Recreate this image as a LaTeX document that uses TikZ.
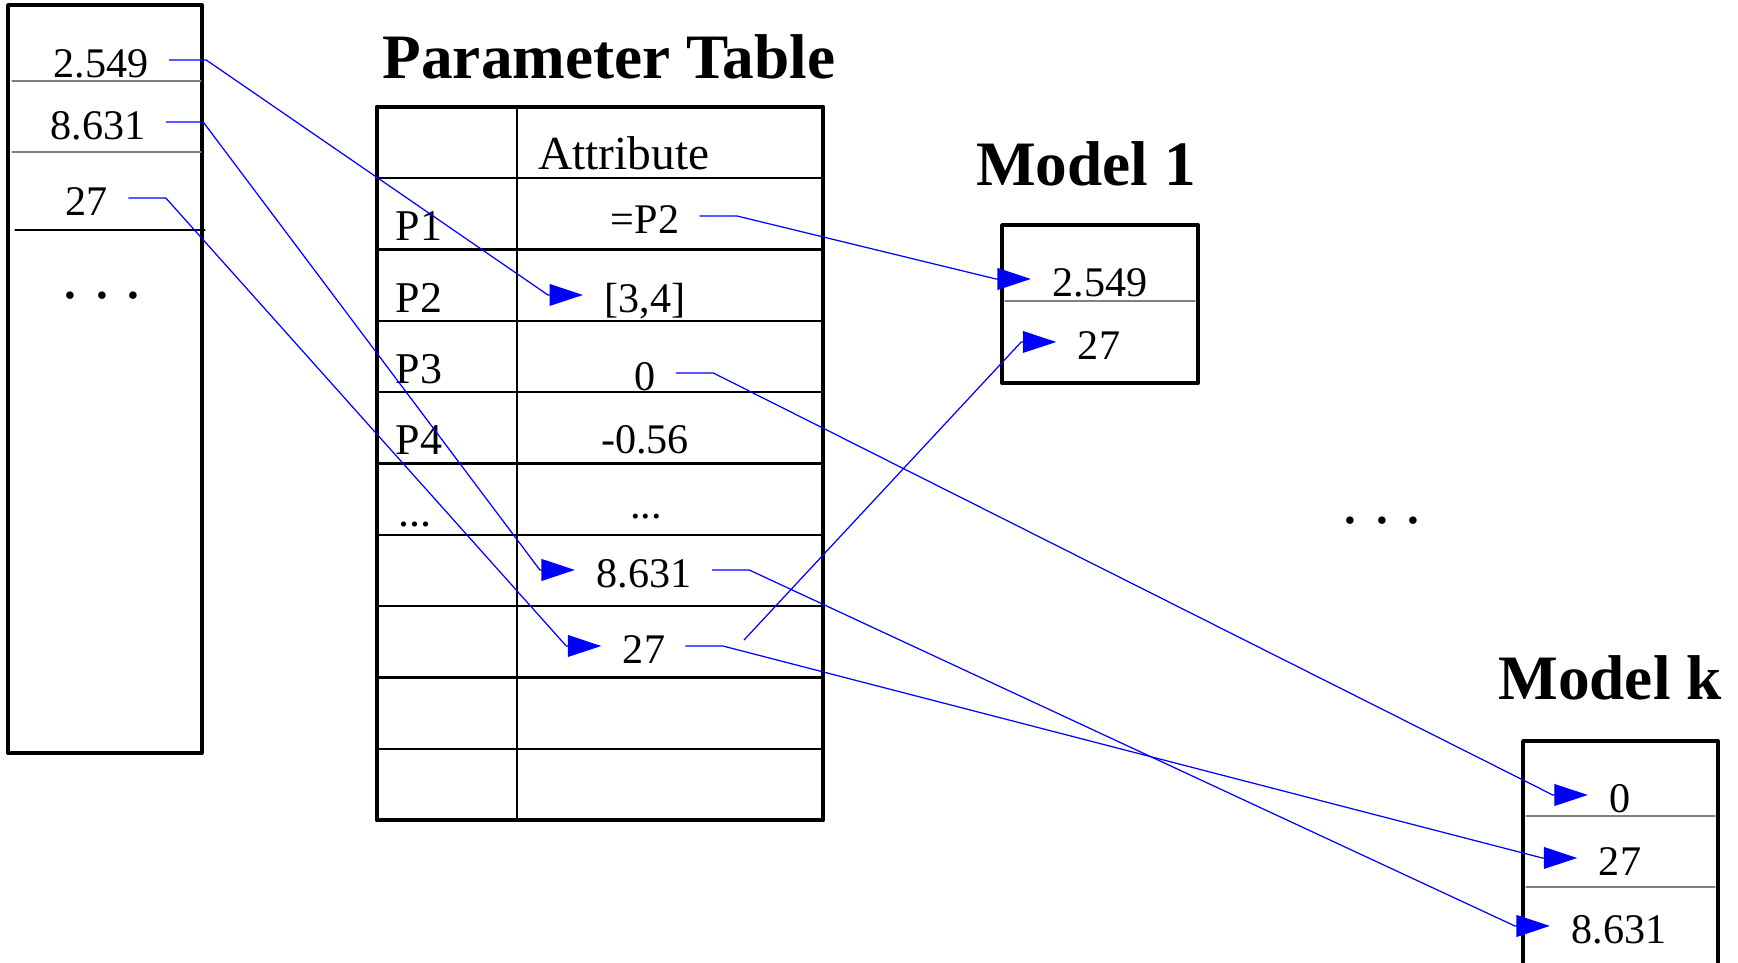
\documentclass[tikz,border=0pt]{standalone}
\usepackage{fontspec}
\setmainfont{Liberation Serif}
\usetikzlibrary{arrows.meta,calc}

\begin{document}
\begin{tikzpicture}[x=0.1mm, y=-0.1mm, line cap=round, line join=round, >={Triangle[length=9.5pt,width=6.2pt]}]
	\tikzset{val/.style={inner sep=0pt, text height=9.7pt, text depth=0pt, font=\fontsize{12}{14}\selectfont, anchor=base},
		lab/.style={inner sep=0pt, font=\fontsize{12.5}{15}\selectfont, anchor=base west},
		head/.style={inner sep=0pt, font=\fontsize{18}{22}\selectfont\bfseries, anchor=base},
		dots/.style={inner sep=0pt, font=\fontsize{18}{22}\selectfont, anchor=base},
		box/.style={line width=1.1pt},
		outer/.style={line width=1.4pt},
		rule/.style={line width=0.65pt},
		sep/.style={line width=0.35pt, gray},
		link/.style={->, blue, line width=0.35pt}}
	\useasboundingbox (0,0) rectangle (1738,962);
	% left list
	\draw[box] (8,5) rectangle (202,753);
	\draw[sep] (12,81)--(201,81);
	\draw[sep] (12,152)--(201,152);
	\draw[line width=0.35pt] (15,230)--(205,230);
	\node[val] (l1) at (101,77) {2.549};
	\node[val] (l2) at (98,139) {8.631};
	\node[val] (l3) at (87,215) {27};
	\node[dots] (ldots) at (102,298) {.\ .\ .};
	% parameter table
	\node[head] (ttab) at (609,78) {Parameter Table};
	\draw[outer] (377,107) rectangle (823,820);
	\foreach \k in {1,...,9} \draw[rule] (377,{107+71.3*\k})--(823,{107+71.3*\k});
	\draw[line width=0.57pt] (517,107)--(517,820);
	\node[lab, anchor=base, font=\fontsize{13.5}{16}\selectfont] (attr) at (624,169) {Attribute};
	\node[lab] (p1) at (395,240) {P1};
	\node[lab] (p2) at (395,312) {P2};
	\node[lab] (p3) at (395,383) {P3};
	\node[lab] (p4) at (395,454) {P4};
	\node[lab] (pdots) at (398,526) {...};
	\node[val] (p1v) at (645,233) {=P2};
	\node[val] (p2v) at (645,312) {[3,4]};
	\node[val] (p3v) at (645,390) {0};
	\node[val] (p4v) at (645,453) {-0.56};
	\node[val] (tdots) at (646,518) {...};
	\node[val] (t8) at (644,587) {8.631};
	\node[val] (t27) at (644,663) {27};
	% model 1
	\node[head] (m1) at (1086,185) {Model 1};
	\draw[box] (1002,225) rectangle (1198,383);
	\draw[sep] (1005,301)--(1195,301);
	\node[val] (m1a) at (1100,296) {2.549};
	\node[val] (m1b) at (1099,359) {27};
	\node[dots] (rdots) at (1382,523) {.\ .\ .};
	% model k
	\node[head] (mk) at (1610,699) {Model k};
	\draw[box] (1523,962)--(1523,741)--(1718,741)--(1718,962);
	\draw[sep] (1526,816)--(1715,816);
	\draw[sep] (1526,887)--(1715,887);
	\node[val] (mka) at (1620,812) {0};
	\node[val] (mkb) at (1620,875) {27};
	\node[val] (mkc) at (1619,943) {8.631};
	% links
	\foreach \a/\b in {l1/p2v, l2/t8, l3/t27, p1v/m1a, p3v/mka, t8/mkc, t27/mkb}
		\draw[link] ($(\a.east)+(20,0)$) -- ++(37,0) -- ($(\b.west)+(-56,0)$) -- ($(\b.west)+(-21,0)$);
	\coordinate (loose) at (744,640);
	\draw[link] (loose) -- ($(m1b.west)+(-56,0)$) -- ($(m1b.west)+(-21,0)$);
\end{tikzpicture}
\end{document}
